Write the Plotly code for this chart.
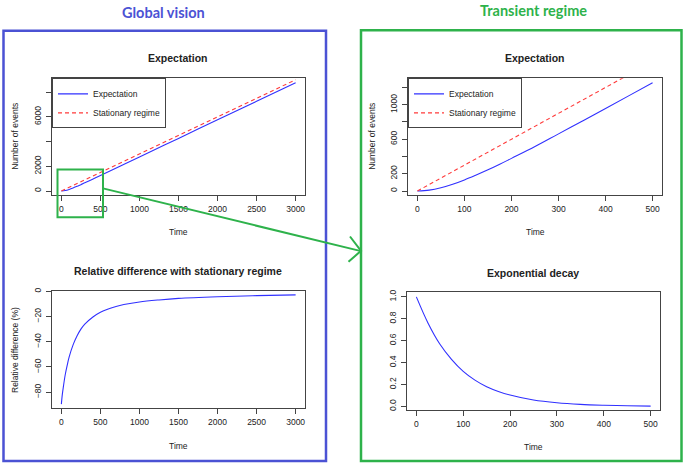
import plotly.graph_objects as go

W, H = 685, 467

# ---------------- data ----------------
t_global = [0, 50, 100, 150, 200, 250, 300, 400, 500, 750, 1000, 1500, 2000, 2500, 3000]
exp_global = [0, 37, 128, 245, 378, 515, 662, 955, 1255, 2005, 2755, 4255, 5755, 7255, 8760]
stat_global = [0, 150, 300, 450, 600, 750, 900, 1200, 1500, 2250, 3000, 4500, 6000, 7500, 9000]

t_rel = [0, 10, 25, 50, 75, 100, 150, 200, 250, 300, 400, 500, 600, 700, 800,
         1000, 1250, 1500, 2000, 2500, 3000]
rel_diff = [-89.5, -83, -76, -66, -58.5, -52, -42.5, -35.5, -30, -26, -20.5, -16.6,
            -14, -12, -10.5, -8.4, -6.8, -5.6, -4.3, -3.4, -2.8]

t_trans = [0, 25, 50, 75, 100, 125, 150, 175, 200, 250, 300, 350, 400, 450, 500]
exp_trans = [0, 10, 37, 78, 128, 185, 245, 310, 378, 515, 662, 808, 955, 1105, 1255]
stat_trans = [0, 75, 150, 225, 300, 375, 450, 525, 600, 750, 900, 1050, 1200, 1350, 1500]

t_decay = [0, 25, 50, 75, 100, 125, 150, 175, 200, 250, 300, 350, 400, 450, 500]
decay = [1.0, 0.76, 0.57, 0.43, 0.32, 0.24, 0.18, 0.137, 0.104, 0.058, 0.033,
         0.019, 0.011, 0.006, 0.003]

# tick labels
xt_global = [0, 500, 1000, 1500, 2000, 2500, 3000]
yt_global = [0, 2000, 4000, 6000, 8000]
yl_global = ["0", "2000", "", "6000", ""]
yt_rel = [0, -20, -40, -60, -80]
xt_trans = [0, 100, 200, 300, 400, 500]
yt_trans = [0, 200, 400, 600, 800, 1000, 1200]
yl_trans = ["0", "200", "", "600", "", "1000", ""]
yt_decay = [0.0, 0.2, 0.4, 0.6, 0.8, 1.0]
yl_decay = ["0.0", "0.2", "0.4", "0.6", "0.8", "1.0"]

BLUE_PANEL = "#4b52d4"
GREEN_PANEL = "#2eb24b"
FONT = "Liberation Sans, Arial, sans-serif"


def px(x):
    return x / W


def py(y):
    return 1 - y / H


def rrange(vals):
    lo, hi = min(vals), max(vals)
    d = (hi - lo) * 0.04
    return [lo - d, hi + d]


fig = go.Figure()

line_blue = dict(color="#3030ff", width=1.1, shape="spline")
line_red = dict(color="#ff3a3a", width=1.1, dash="4px,3px")

fig.add_trace(go.Scatter(x=t_global, y=exp_global, mode="lines", name="Expectation",
                         line=line_blue, xaxis="x", yaxis="y", legend="legend"))
fig.add_trace(go.Scatter(x=t_global, y=stat_global, mode="lines", name="Stationary regime",
                         line=line_red, xaxis="x", yaxis="y", legend="legend"))
fig.add_trace(go.Scatter(x=t_rel, y=rel_diff, mode="lines", showlegend=False,
                         line=line_blue, xaxis="x2", yaxis="y2"))
fig.add_trace(go.Scatter(x=t_trans, y=exp_trans, mode="lines", name="Expectation",
                         line=line_blue, xaxis="x3", yaxis="y3", legend="legend2"))
fig.add_trace(go.Scatter(x=t_trans, y=stat_trans, mode="lines", name="Stationary regime",
                         line=line_red, xaxis="x3", yaxis="y3", legend="legend2"))
fig.add_trace(go.Scatter(x=t_decay, y=decay, mode="lines", showlegend=False,
                         line=line_blue, xaxis="x4", yaxis="y4"))

ax_common = dict(showline=True, mirror=True, linecolor="#444", linewidth=1,
                 ticks="outside", ticklen=5, tickcolor="#444", showgrid=False,
                 zeroline=False, tickfont=dict(family=FONT, size=8.5, color="#222"),
                 fixedrange=True)
ay_extra = dict(tickangle=-90, ticklabelstandoff=2)

fig.update_layout(
    width=W, height=H, margin=dict(l=0, r=0, t=0, b=0),
    paper_bgcolor="white", plot_bgcolor="white",
    font=dict(family=FONT, color="#222"),
    xaxis=dict(domain=[px(52), px(305)], anchor="y", range=rrange(t_global),
               tickvals=xt_global, **ax_common),
    yaxis=dict(domain=[py(194), py(76)], anchor="x", range=rrange(exp_global),
               tickvals=yt_global, ticktext=yl_global, **ay_extra, **ax_common),
    xaxis2=dict(domain=[px(52), px(305)], anchor="y2", range=rrange(t_rel),
                tickvals=xt_global, **ax_common),
    yaxis2=dict(domain=[py(409), py(290)], anchor="x2", range=rrange(rel_diff),
                tickvals=yt_rel, **ay_extra, **ax_common),
    xaxis3=dict(domain=[px(408), px(662)], anchor="y3", range=rrange(t_trans),
                tickvals=xt_trans, **ax_common),
    yaxis3=dict(domain=[py(194), py(76)], anchor="x3", range=rrange(exp_trans),
                tickvals=yt_trans, ticktext=yl_trans, **ay_extra, **ax_common),
    xaxis4=dict(domain=[px(407), px(660)], anchor="y4", range=rrange(t_decay),
                tickvals=xt_trans, **ax_common),
    yaxis4=dict(domain=[py(411), py(292)], anchor="x4", range=rrange(decay),
                tickvals=yt_decay, ticktext=yl_decay, **ay_extra, **ax_common),
    legend=dict(x=px(52), y=py(76), xanchor="left", yanchor="top",
                bordercolor="#444", borderwidth=1, bgcolor="white",
                font=dict(family=FONT, size=8.5, color="#222"),
                tracegroupgap=0, itemwidth=30),
    legend2=dict(x=px(408), y=py(76), xanchor="left", yanchor="top",
                 bordercolor="#444", borderwidth=1, bgcolor="white",
                 font=dict(family=FONT, size=8.5, color="#222"),
                 tracegroupgap=0, itemwidth=30),
)

ann = []


def text(x, y, s, size=8.5, bold=False, angle=0, color="#222", family=FONT):
    ann.append(dict(x=px(x), y=py(y), xref="paper", yref="paper", text=("<b>%s</b>" % s) if bold else s,
                    showarrow=False, xanchor="center", yanchor="middle", textangle=angle,
                    font=dict(family=family, size=size, color=color)))


# panel titles
text(163, 10, "Global vision", size=14.5, bold=True, color=BLUE_PANEL, family="Lato, Open Sans, sans-serif")
text(533, 8, "Transient regime", size=14.5, bold=True, color=GREEN_PANEL, family="Lato, Open Sans, sans-serif")

# subplot titles
text(178, 55, "Expectation", size=10.5, bold=True)
text(178, 270, "Relative difference with stationary regime", size=10.5, bold=True)
text(535, 55, "Expectation", size=10.5, bold=True)
text(533, 272, "Exponential decay", size=10.5, bold=True)

# axis titles
text(178, 231, "Time")
text(178, 447, "Time")
text(535, 231, "Time")
text(533, 448, "Time")
text(15, 135, "Number of events", angle=-90)
text(15, 350, "Relative difference (%)", angle=-90)
text(372, 135, "Number of events", angle=-90)

fig.update_layout(annotations=ann)

shapes = []
# panel frames
shapes.append(dict(type="rect", xref="paper", yref="paper", x0=px(3.5), x1=px(326), y0=py(462), y1=py(28),
                   line=dict(color=BLUE_PANEL, width=2.5), layer="above"))
shapes.append(dict(type="rect", xref="paper", yref="paper", x0=px(361), x1=px(681.5), y0=py(462), y1=py(27.5),
                   line=dict(color=GREEN_PANEL, width=2.5), layer="above"))
# zoom rectangle in global expectation plot
shapes.append(dict(type="rect", xref="paper", yref="paper", x0=px(57.5), x1=px(103), y0=py(216), y1=py(168),
                   line=dict(color=GREEN_PANEL, width=2), layer="above"))
# arrow
shapes.append(dict(type="line", xref="paper", yref="paper", x0=px(103), y0=py(187), x1=px(360), y1=py(250),
                   line=dict(color=GREEN_PANEL, width=2), layer="above"))
shapes.append(dict(type="path", xref="paper", yref="paper",
                   path="M %f,%f L %f,%f L %f,%f" % (px(350), py(235.5), px(361), py(250), px(348.5), py(261)),
                   line=dict(color=GREEN_PANEL, width=2), layer="above"))
fig.update_layout(shapes=shapes)

fig.write_html("out.html", config={"displayModeBar": False},
               post_script="document.body.style.margin='0';document.body.style.padding='0';")
